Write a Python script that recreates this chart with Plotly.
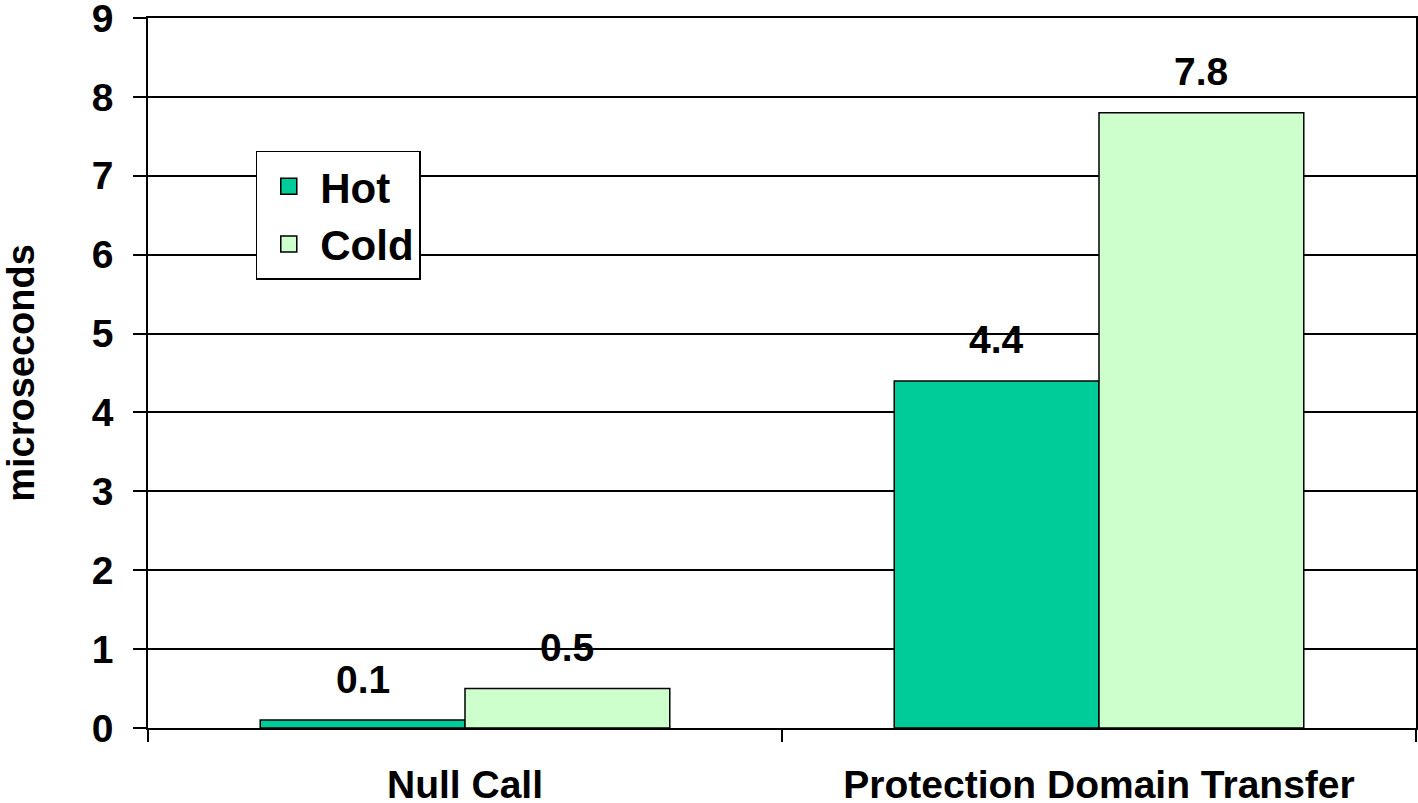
import plotly.graph_objects as go

categories = ["Null Call", "Protection Domain Transfer"]
series_names = ["Hot", "Cold"]
hot_values = [0.1, 4.4]
cold_values = [0.5, 7.8]
series_colors = ["#00CC99", "#CCFFCC"]
y_tick_values = [0, 1, 2, 3, 4, 5, 6, 7, 8, 9]
y_title = "microseconds"

FONT = "Liberation Sans, Arial, sans-serif"
BARGAP = 0.354

fig = go.Figure()
for name, vals, col in zip(series_names, [hot_values, cold_values], series_colors):
    fig.add_trace(go.Bar(
        x=categories, y=vals, name=name, legendgroup=name, showlegend=False,
        marker=dict(color=col, line=dict(color="black", width=1.5)),
    ))
    # legend entry with a larger square swatch
    fig.add_trace(go.Scatter(
        x=[None], y=[None], mode="markers", name=name, legendgroup=name,
        marker=dict(symbol="square", size=16, color=col, line=dict(color="black", width=1.5)),
        hoverinfo="skip",
    ))

# value labels above bars
bar_w = (1 - BARGAP) / len(series_names)
for i, vals in enumerate([hot_values, cold_values]):
    off = (i - (len(series_names) - 1) / 2) * bar_w
    for j, v in enumerate(vals):
        fig.add_annotation(
            x=j + off, y=v, xref="x", yref="y", text=f"<b>{v}</b>",
            showarrow=False, yanchor="middle", yshift=41,
            font=dict(family=FONT, size=39, color="black"),
        )

fig.update_layout(
    width=1418, height=803,
    margin=dict(l=148, r=2, t=18, b=75, autoexpand=False),
    paper_bgcolor="white", plot_bgcolor="white",
    barmode="group", bargap=BARGAP, bargroupgap=0,
    font=dict(family=FONT, size=39, color="black"),
    showlegend=True,
    legend=dict(
        x=0.085, y=0.8127, xanchor="left", yanchor="top",
        bgcolor="white", bordercolor="black", borderwidth=1.5,
        font=dict(family=FONT, size=42, color="black", weight="bold"),
        traceorder="normal", tracegroupgap=9,
        itemwidth=53,
    ),
)
fig.update_xaxes(
    type="category", showline=True, linecolor="black", linewidth=1.5, mirror=True,
    ticks="outside", tickson="boundaries", ticklen=12, tickwidth=1.5, tickcolor="black",
    tickfont=dict(family=FONT, size=39, color="black", weight="bold"),
    ticklabelstandoff=21, showgrid=False, automargin=False,
)
fig.update_yaxes(
    range=[0, 9], tickvals=y_tick_values, showline=True, linecolor="black", linewidth=1.5,
    mirror=True, zeroline=False, automargin=False, ticklabeloverflow="allow",
    ticks="outside", ticklen=13, tickwidth=1.5, tickcolor="black",
    tickfont=dict(family=FONT, size=39, color="black", weight="bold"),
    ticklabelstandoff=12,
    showgrid=True, gridcolor="black", gridwidth=1.5,
    title=dict(text=f"<b>{y_title}</b>", font=dict(family=FONT, size=38, color="black"), standoff=50),
)

fig.write_html(
    "out.html",
    config={"displayModeBar": False},
    post_script="document.body.style.margin='0';document.body.style.overflow='hidden';",
)
